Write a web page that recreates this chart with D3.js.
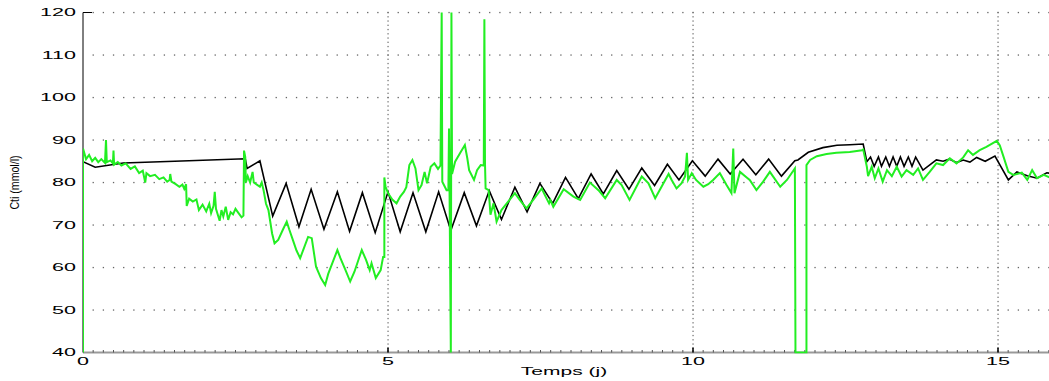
<!DOCTYPE html>
<html><head><meta charset="utf-8">
<script src="https://cdn.jsdelivr.net/npm/d3@7"></script>
<style>html,body{margin:0;padding:0;background:#fff;overflow:hidden}</style>
</head><body><svg id="c" width="1049" height="381"></svg>
<script>
// ---- data ----
const xTicks = [0, 5, 10, 15];
const yTicks = [40, 50, 60, 70, 80, 90, 100, 110, 120];
const xLabel = "Temps (j)";
const yLabel = "Cti (mmol/l)";

// model (black) : [time (days), Cti]
const modelSeries = [
 [0,84.9],[0.2,83.6],[0.66,84.6],[1.5,85.0],[2.66,85.6],[2.69,83.3],[2.90,85.1],
 [3.11,72.1],[3.33,79.8],[3.54,69.6],[3.74,78.4],[3.95,69.0],[4.17,77.8],[4.37,68.5],
 [4.58,77.6],[4.79,68.2],[5.00,77.8],[5.20,68.4],[5.41,77.6],[5.62,68.4],[5.83,77.8],
 [6.03,68.7],[6.25,77.6],[6.45,69.8],[6.66,78.1],[6.86,71.3],[7.08,78.9],[7.28,73.1],
 [7.49,79.8],[7.70,75.1],[7.91,81.2],[8.12,76.2],[8.33,82.0],[8.53,77.3],[8.75,82.8],
 [8.95,78.4],[9.16,83.4],[9.37,79.3],[9.58,84.3],[9.77,80.6],[9.99,85.1],[10.20,81.5],
 [10.41,85.5],[10.61,82.0],[10.82,85.5],[11.03,81.8],[11.24,85.5],[11.45,81.5],
 [11.67,85.1],[11.72,85.3],[11.89,87.1],[12.13,88.2],[12.36,88.75],[12.57,88.9],
 [12.79,89.05],[12.85,84.9],[12.91,86.0],[12.97,83.8],[13.04,86.0],[13.09,83.8],
 [13.16,86.0],[13.22,83.8],[13.28,86.0],[13.34,83.8],[13.40,86.0],[13.46,83.8],
 [13.53,86.0],[13.59,83.8],[13.65,86.0],[13.77,82.9],[13.99,85.3],[14.10,85.0],
 [14.20,85.5],[14.32,84.7],[14.43,85.3],[14.54,84.8],[14.65,85.9],[14.79,85.0],
 [14.95,86.2],[15.17,80.6],[15.31,82.5],[15.48,81.6],[15.64,81.0],[15.80,82.3],[15.90,82.0]
];

// measured (green) : [time (days), Cti]
const measuredSeries = [
 [0,40],[0,88],[0.05,85.5],[0.1,86.5],[0.15,85.0],[0.2,85.8],[0.25,84.8],[0.3,85.5],
 [0.36,84.6],[0.377,90],[0.39,84.8],[0.45,85.2],[0.49,84.5],[0.50,87.5],[0.51,84.2],
 [0.57,84.8],[0.63,84.0],[0.7,84.5],[0.78,83.2],[0.85,83.8],[0.92,82.2],[0.98,82.8],
 [1.02,80.0],[1.04,82.2],[1.1,81.5],[1.18,81.8],[1.25,80.8],[1.32,81.2],[1.38,80.2],
 [1.42,80.6],[1.43,82.0],[1.45,80.2],[1.52,79.6],[1.58,79.0],[1.63,79.5],[1.66,78.5],
 [1.69,79.6],[1.70,74.5],[1.74,76.2],[1.8,75.5],[1.86,76.0],[1.9,73.5],[1.96,74.8],
 [2.02,73.2],[2.07,75.0],[2.1,72.8],[2.14,74.5],[2.16,77.8],[2.18,73.8],[2.24,71.0],
 [2.27,73.5],[2.3,72.0],[2.34,74.3],[2.38,71.2],[2.42,73.0],[2.46,72.5],[2.5,73.8],
 [2.55,72.8],[2.6,71.8],[2.63,72.2],[2.64,87.5],[2.66,86.0],[2.67,80.0],[2.7,81.5],
 [2.74,80.0],[2.78,82.5],[2.8,80.0],[2.85,79.5],[2.9,79.0],[2.93,80.0],[2.96,78.2],
 [3.0,75.0],[3.04,73.5],[3.1,68.0],[3.14,65.7],[3.2,66.5],[3.28,69.0],[3.34,70.8],
 [3.38,69.0],[3.44,66.5],[3.5,64.0],[3.56,62.2],[3.62,64.5],[3.69,67.2],[3.75,66.9],
 [3.82,60.2],[3.9,57.5],[3.97,55.9],[4.02,58.5],[4.1,61.5],[4.17,64.1],[4.22,62.2],
 [4.3,59.5],[4.38,56.7],[4.45,59.0],[4.52,62.0],[4.57,64.1],[4.64,61.8],[4.7,59.4],
 [4.73,61.0],[4.8,57.5],[4.88,59.4],[4.92,62.5],[4.94,62.5],[4.94,81.2],[4.96,79.0],
 [5.0,77.5],[5.07,76.0],[5.14,75.1],[5.2,76.7],[5.26,77.8],[5.3,78.9],[5.35,84.1],[5.4,85.3],
 [5.45,83.3],[5.5,78.2],[5.55,79.4],[5.6,82.5],[5.64,79.8],[5.7,83.7],[5.76,84.5],
 [5.82,83.2],[5.86,84.0],[5.88,120],[5.89,80.2],[5.96,78.2],[5.99,78.2],[6.0,92.7],[6.01,76.0],
 [6.03,40],[6.04,120],[6.05,82.0],[6.1,84.9],[6.18,86.9],[6.26,88.8],[6.3,85.7],
 [6.33,82.9],[6.41,80.6],[6.46,82.9],[6.52,84.1],[6.57,84.0],[6.58,118.4],[6.59,84.5],
 [6.6,78.6],[6.65,78.2],[6.68,72.4],[6.73,75.1],[6.78,70.8],[6.86,73.5],[6.97,75.5],
 [7.08,77.5],[7.16,75.9],[7.27,73.9],[7.38,75.9],[7.52,78.6],[7.57,77.1],[7.64,75.1],
 [7.66,75.9],[7.71,74.3],[7.88,78.4],[8.04,76.7],[8.15,75.9],[8.31,80.0],[8.45,78.2],
 [8.56,76.3],[8.75,80.6],[8.83,79.4],[8.96,75.9],[9.16,81.4],[9.27,79.8],[9.38,76.3],
 [9.6,82.0],[9.65,80.6],[9.73,78.6],[9.81,79.8],[9.87,81.4],[9.9,87.0],[9.92,80.6],
 [9.98,82.2],[10.05,80.6],[10.17,79.0],[10.25,79.6],[10.33,80.6],[10.44,82.2],
 [10.55,79.4],[10.63,77.5],[10.66,88.0],[10.68,77.5],[10.77,82.5],[10.88,81.2],
 [10.93,80.6],[11.04,78.2],[11.15,80.2],[11.26,82.5],[11.43,79.0],[11.54,80.6],
 [11.67,83.3],[11.68,40],[11.86,40],[11.86,84.1],[11.92,85.3],[12.03,86.2],[12.19,86.7],
 [12.35,87.0],[12.57,87.2],[12.77,87.6],[12.79,87.8],[12.85,83.7],[12.87,81.5],
 [12.93,83.7],[12.98,81.0],[13.04,83.3],[13.11,80.2],[13.18,82.9],[13.26,81.5],
 [13.34,83.7],[13.42,81.4],[13.5,82.9],[13.61,81.8],[13.69,83.3],[13.77,80.6],
 [13.88,82.5],[13.99,84.5],[14.1,84.1],[14.21,85.7],[14.32,84.5],[14.43,85.9],
 [14.51,87.6],[14.59,86.5],[14.7,87.6],[14.81,88.4],[14.98,89.8],[15.03,88.7],
 [15.09,86.1],[15.17,82.5],[15.25,81.8],[15.39,82.3],[15.48,80.6],[15.56,82.9],
 [15.64,81.0],[15.75,81.8],[15.85,81.2]
];

// ---- chart ----
const svg = d3.select("#c");
const L = 83, T = 12.5, B = 352.5, pxPerDay = 61;
const x = d3.scaleLinear().domain([0, 16]).range([L, L + 16 * pxPerDay]);
const y = d3.scaleLinear().domain([40, 120]).range([B, T]);
const W = 1049;

// dotted grid
const g = svg.append("g");
const minorX = d3.range(1, 16 * 6 + 1).map(k => k / 6).filter(t => x(t) < W);
yTicks.filter(v => v > 40).forEach(v => {
  g.selectAll(null).data(minorX).enter().append("rect")
    .attr("x", d => x(d) - 0.6).attr("y", y(v) - 0.6)
    .attr("width", 1.3).attr("height", 1.3).attr("fill", "#666");
});
const minorY = d3.range(41, 121, 1);
xTicks.filter(t => t > 0).forEach(t => {
  g.selectAll(null).data(minorY).enter().append("rect")
    .attr("x", x(t) - 0.6).attr("y", d => y(d) - 0.6)
    .attr("width", 1.3).attr("height", 1.3).attr("fill", "#777");
});

// clip
svg.append("clipPath").attr("id", "pc").append("rect")
  .attr("x", L).attr("y", T - 1).attr("width", W - L).attr("height", B - T + 2);

const line = d3.line().x(d => x(d[0])).y(d => y(d[1]));

// axes
svg.append("line").attr("x1", L).attr("x2", W).attr("y1", B).attr("y2", B)
  .attr("stroke", "#999").attr("stroke-width", 2);
svg.append("g").selectAll("line").data(d3.range(1, 16 * 6).map(k => k / 6).filter(t => x(t) < W))
  .enter().append("line")
  .attr("x1", d => x(d)).attr("x2", d => x(d)).attr("y1", B).attr("y2", B - 2.5)
  .attr("stroke", "#555").attr("stroke-width", 1);
svg.append("g").selectAll("line").data(xTicks.filter(t => t > 0)).enter().append("line")
  .attr("x1", d => x(d)).attr("x2", d => x(d)).attr("y1", B).attr("y2", B - 5)
  .attr("stroke", "#000").attr("stroke-width", 1.5);
svg.append("line").attr("x1", L).attr("x2", L).attr("y1", T).attr("y2", B)
  .attr("stroke", "#000").attr("stroke-width", 1);
svg.append("line").attr("x1", L).attr("x2", L + 9).attr("y1", T).attr("y2", T)
  .attr("stroke", "#000").attr("stroke-width", 1);

// series
const pg = svg.append("g").attr("clip-path", "url(#pc)");
pg.append("path").datum(modelSeries).attr("d", line)
  .attr("fill", "none").attr("stroke", "#000").attr("stroke-width", 1.6)
  .attr("stroke-linejoin", "miter");
pg.append("path").datum(measuredSeries).attr("d", line)
  .attr("fill", "none").attr("stroke", "#22ee22").attr("stroke-width", 2)
  .attr("stroke-linejoin", "miter");

// tick labels
const font = "Liberation Sans, Arial, sans-serif";
const lab = svg.append("g").attr("font-family", font).attr("font-size", 10.5).attr("fill", "#000");
lab.selectAll(null).data(yTicks).enter().append("text")
  .attr("transform", d => `translate(76,${y(d) + 3.8}) scale(2.05,1)`)
  .attr("text-anchor", "end").text(d => d);
lab.selectAll(null).data(xTicks).enter().append("text")
  .attr("transform", d => `translate(${x(d)},${B + 12.5}) scale(2.05,1)`)
  .attr("text-anchor", "middle").text(d => d);
lab.append("text").attr("transform", `translate(564,375) scale(2.0,1)`)
  .attr("text-anchor", "middle").text(xLabel);
svg.append("text").attr("font-family", font).attr("font-size", 11.5)
  .attr("transform", `translate(19,182.5) rotate(-90) scale(0.92,1.15)`)
  .attr("text-anchor", "middle").text(yLabel);
</script></body></html>
